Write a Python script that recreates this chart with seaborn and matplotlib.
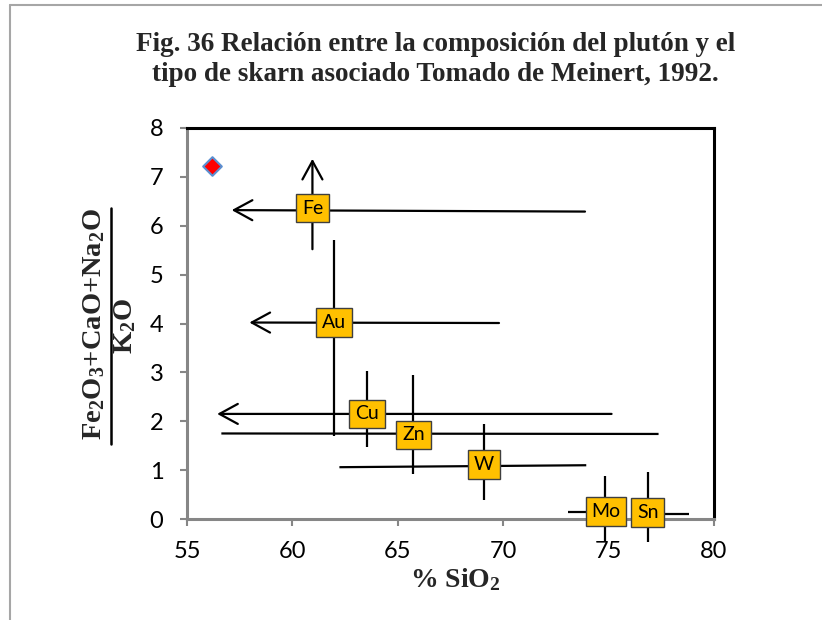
import matplotlib
matplotlib.use("Agg")
import matplotlib.pyplot as plt
from matplotlib.lines import Line2D
import seaborn as sns

# Skarn types and where their labels sit (SiO2 %, oxide ratio)
skarn_types = ["Fe", "Au", "Cu", "Zn", "W", "Mo", "Sn"]
label_sio2 = [60.95, 61.97, 63.54, 65.74, 69.09, 74.88, 76.86]
label_ratio = [6.36, 4.02, 2.15, 1.72, 1.12, 0.15, 0.13]

# Horizontal ranges (SiO2 spread) for each skarn type
h_start = [57.12, 57.96, 56.43, 56.63, 62.23, 73.06, 76.86]
h_end = [73.88, 69.80, 75.14, 77.37, 73.94, 74.88, 78.81]
h_ratio_start = [6.32, 4.02, 2.15, 1.75, 1.06, 0.14, 0.11]
h_ratio_end = [6.29, 4.01, 2.15, 1.74, 1.10, 0.14, 0.11]
h_open_left = [True, True, True, False, False, False, False]

# Vertical ranges (oxide ratio spread) for each skarn type
v_sio2 = [60.95, 61.99, 63.56, 65.74, 69.07, 74.83, 76.88]
v_low = [5.52, 1.69, 1.48, 0.93, 0.38, -0.46, -0.47]
v_high = [7.37, 5.71, 3.03, 2.95, 1.94, 0.87, 0.97]
v_open_top = [True, False, False, False, False, False, False]

# Pluton sample
sample_sio2 = [56.2]
sample_ratio = [7.22]

x_ticks = [55, 60, 65, 70, 75, 80]
y_ticks = [0, 1, 2, 3, 4, 5, 6, 7, 8]

sns.set_theme(style="white")
plt.rcParams["font.family"] = ["Lato", "DejaVu Sans"]
plt.rcParams["mathtext.fontset"] = "custom"
plt.rcParams["mathtext.rm"] = "Liberation Serif"
plt.rcParams["mathtext.bf"] = "Liberation Serif:bold"
plt.rcParams["mathtext.default"] = "bf"

W, H = 822, 620
fig = plt.figure(figsize=(W / 100, H / 100), dpi=100)
fig.patch.set_facecolor("white")

ax = fig.add_axes([187 / W, 1 - 519 / H, (714 - 187) / W, (519 - 128) / H])
ax.set_facecolor("white")

line_kw = dict(color="black", lw=1.6, solid_capstyle="butt", clip_on=False, zorder=2)
arrow_kw = dict(arrowstyle="->,head_length=0.55,head_width=0.3", color="black",
                lw=1.6, shrinkA=0, shrinkB=0, mutation_scale=24)

for x0, x1, y0, y1, opened in zip(h_start, h_end, h_ratio_start, h_ratio_end, h_open_left):
    if opened:
        ax.annotate("", xy=(x0, y0), xytext=(x1, y1), arrowprops=arrow_kw,
                    annotation_clip=False, zorder=2)
    else:
        ax.plot([x0, x1], [y0, y1], **line_kw)

for x, lo, hi, opened in zip(v_sio2, v_low, v_high, v_open_top):
    if opened:
        ax.annotate("", xy=(x, hi), xytext=(x, lo), arrowprops=arrow_kw,
                    annotation_clip=False, zorder=2)
    else:
        ax.plot([x, x], [lo, hi], **line_kw)

for name, x, y in zip(skarn_types, label_sio2, label_ratio):
    ax.text(x, y, name, ha="center", va="center", fontsize=14, color="black",
            family=["Lato", "DejaVu Sans"], zorder=5, clip_on=False,
            bbox=dict(boxstyle="square,pad=0.3", fc="#FFC000", ec="#3F3F3F", lw=1.0))

sns.scatterplot(x=sample_sio2, y=sample_ratio, marker="D", s=90, color="#FF0000",
                edgecolor="#5B8FD0", linewidth=1.5, ax=ax, zorder=6, clip_on=False)

ax.set_xlim(55, 80)
ax.set_ylim(0, 8)
ax.set_xticks(x_ticks)
ax.set_yticks(y_ticks)
ax.set_xticklabels([str(t) for t in x_ticks])
ax.set_yticklabels([str(t) for t in y_ticks])
ax.tick_params(axis="both", which="major", direction="out", length=5, width=1.5,
               color="#868686", labelsize=17, labelcolor="black",
               bottom=True, left=True)
ax.tick_params(axis="x", pad=11)
ax.tick_params(axis="y", pad=12)
ax.set_xlabel("")
ax.set_ylabel("")
for side in ("left", "bottom"):
    ax.spines[side].set_color("#868686")
    ax.spines[side].set_linewidth(2.2)
for side in ("top", "right"):
    ax.spines[side].set_color("black")
    ax.spines[side].set_linewidth(2.2)
ax.grid(False)

serif = ["Liberation Serif", "DejaVu Serif"]

# Title
fig.text(435.5 / W, 1 - 51 / H, "Fig. 36 Relación entre la composición del plutón y el",
         ha="center", va="baseline", fontsize=19.5, weight="bold", family=serif)
fig.text(435.5 / W, 1 - 81 / H, "tipo de skarn asociado Tomado de Meinert, 1992.",
         ha="center", va="baseline", fontsize=19.5, weight="bold", family=serif)

# X label
fig.text(455 / W, 1 - 587 / H, "% SiO$_2$", ha="center", va="baseline",
         fontsize=20, weight="bold", family=serif)

# Y label as a stacked fraction
fig.text(94 / W, 1 - 324 / H, "Fe$_2$O$_3$+CaO+Na$_2$O", rotation=90,
         ha="center", va="center", fontsize=20.5, weight="bold", family=serif)
fig.text(125 / W, 1 - 326.5 / H, "K$_2$O", rotation=90,
         ha="center", va="center", fontsize=20.5, weight="bold", family=serif)
fig.add_artist(Line2D([110.7 / W, 110.7 / W], [1 - 208 / H, 1 - 444 / H],
                      transform=fig.transFigure, color="black", lw=1.8))

# Outer frame lines
frame_c = "#A6A6A6"
fig.add_artist(Line2D([10 / W, 10 / W], [0, 1 - 5 / H], transform=fig.transFigure,
                      color=frame_c, lw=1.5))
fig.add_artist(Line2D([10 / W, 1], [1 - 5 / H, 1 - 5 / H], transform=fig.transFigure,
                      color=frame_c, lw=1.5))

fig.savefig("out.png", dpi=100, facecolor="white")
